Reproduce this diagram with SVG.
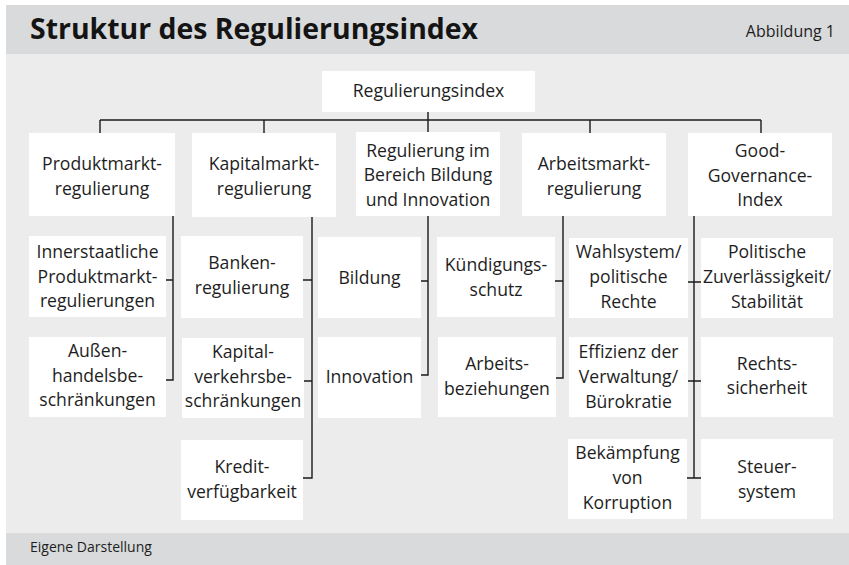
<svg xmlns="http://www.w3.org/2000/svg" width="849" height="565" viewBox="0 0 849 565">
<style>
.band{fill:#d9dadb}
.main{fill:#ececec}
.box{fill:#ffffff}
.t{font-family:"Open Sans","Liberation Sans",sans-serif;font-size:17.6px;fill:#1e1e1e;text-anchor:middle}
.title{font-family:"Open Sans","Liberation Sans",sans-serif;font-size:29px;font-weight:bold;fill:#141414}
.small{font-family:"Open Sans","Liberation Sans",sans-serif;font-size:16px;fill:#1e1e1e}
.foot{font-family:"Open Sans","Liberation Sans",sans-serif;font-size:14px;fill:#1e1e1e}
.c{stroke:#1a1a1a;stroke-width:1.4;fill:none}
</style>
<rect x="0" y="0" width="849" height="565" fill="#ffffff"/>
<rect class="band" x="6" y="5" width="843" height="49"/>
<rect class="main" x="6" y="54" width="843" height="479"/>
<rect class="band" x="6" y="533" width="843" height="32"/>
<text class="title" x="30" y="39" textLength="448" lengthAdjust="spacingAndGlyphs">Struktur des Regulierungsindex</text>
<text class="small" x="835" y="37" text-anchor="end">Abbildung 1</text>
<text class="foot" x="30" y="552">Eigene Darstellung</text>

<g id="connectors">
<path class="c" d="M428,112V132M100,120H761M100,120V133M264,120V133M590,120V133M761,120V133"/>
<path class="c" d="M173,216V380H166M166,280H173"/>
<path class="c" d="M312,217V478H303M302,280H312M304,381H312"/>
<path class="c" d="M428,216V375H421M421,281H428"/>
<path class="c" d="M563,216V378H556M555,281H563"/>
<path class="c" d="M694,216V478M688,282H701M688,381H701M687,478H701"/>
</g>

<g id="n-root"><rect class="box" x="322" y="71" width="213" height="41"/><text class="t" x="428.5" y="97">Regulierungsindex</text></g>

<g id="n-produkt"><rect class="box" x="29" y="133" width="146" height="83"/><text class="t" x="102" y="170">Produktmarkt-</text><text class="t" x="102" y="195">regulierung</text></g>
<g id="n-kapital"><rect class="box" x="192" y="133" width="144" height="84"/><text class="t" x="264" y="170">Kapitalmarkt-</text><text class="t" x="264" y="195">regulierung</text></g>
<g id="n-bildungreg"><rect class="box" x="356" y="132" width="144" height="84"/><text class="t" x="428" y="156.5">Regulierung im</text><text class="t" x="428" y="181">Bereich Bildung</text><text class="t" x="428" y="205.5">und Innovation</text></g>
<g id="n-arbeit"><rect class="box" x="522" y="133" width="144" height="83"/><text class="t" x="594" y="170">Arbeitsmarkt-</text><text class="t" x="594" y="195">regulierung</text></g>
<g id="n-good"><rect class="box" x="688" y="133" width="144" height="83"/><text class="t" x="760" y="157">Good-</text><text class="t" x="760" y="181.5">Governance-</text><text class="t" x="760" y="206">Index</text></g>

<g id="n-inner"><rect class="box" x="29" y="236" width="137" height="81"/><text class="t" x="97.5" y="258">Innerstaatliche</text><text class="t" x="97.5" y="282.5">Produktmarkt-</text><text class="t" x="97.5" y="307">regulierungen</text></g>
<g id="n-aussen"><rect class="box" x="29" y="337" width="137" height="80"/><text class="t" x="97.5" y="357">Außen-</text><text class="t" x="97.5" y="381.5">handelsbe-</text><text class="t" x="97.5" y="406">schränkungen</text></g>

<g id="n-banken"><rect class="box" x="181" y="236" width="122" height="82"/><text class="t" x="242" y="269">Banken-</text><text class="t" x="242" y="293.5">regulierung</text></g>
<g id="n-kapverkehr"><rect class="box" x="182" y="338" width="122" height="80"/><text class="t" x="243" y="358">Kapital-</text><text class="t" x="243" y="382.5">verkehrsbe-</text><text class="t" x="243" y="407">schränkungen</text></g>
<g id="n-kredit"><rect class="box" x="181" y="440" width="122" height="80"/><text class="t" x="242" y="473">Kredit-</text><text class="t" x="242" y="497.5">verfügbarkeit</text></g>

<g id="n-bildung"><rect class="box" x="318" y="237" width="103" height="81"/><text class="t" x="369.5" y="283.5">Bildung</text></g>
<g id="n-innovation"><rect class="box" x="318" y="337" width="103" height="81"/><text class="t" x="369.5" y="383">Innovation</text></g>

<g id="n-kuendigung"><rect class="box" x="437" y="237" width="118" height="80"/><text class="t" x="496" y="271">Kündigungs-</text><text class="t" x="496" y="295.5">schutz</text></g>
<g id="n-arbeitsbez"><rect class="box" x="438" y="337" width="118" height="80"/><text class="t" x="497" y="370">Arbeits-</text><text class="t" x="497" y="394.5">beziehungen</text></g>

<g id="n-wahl"><rect class="box" x="569" y="238" width="119" height="80"/><text class="t" x="628.5" y="258">Wahlsystem/</text><text class="t" x="628.5" y="283">politische</text><text class="t" x="628.5" y="308">Rechte</text></g>
<g id="n-effizienz"><rect class="box" x="569" y="337" width="119" height="80"/><text class="t" x="628.5" y="358">Effizienz der</text><text class="t" x="628.5" y="383">Verwaltung/</text><text class="t" x="628.5" y="408">Bürokratie</text></g>
<g id="n-korruption"><rect class="box" x="568" y="439" width="119" height="80"/><text class="t" x="627.5" y="459">Bekämpfung</text><text class="t" x="627.5" y="484">von</text><text class="t" x="627.5" y="509">Korruption</text></g>

<g id="n-politisch"><rect class="box" x="701" y="238" width="132" height="80"/><text class="t" x="767" y="258">Politische</text><text class="t" x="767" y="283">Zuverlässigkeit/</text><text class="t" x="767" y="308">Stabilität</text></g>
<g id="n-rechts"><rect class="box" x="701" y="337" width="132" height="80"/><text class="t" x="767" y="369.5">Rechts-</text><text class="t" x="767" y="394">sicherheit</text></g>
<g id="n-steuer"><rect class="box" x="701" y="439" width="132" height="80"/><text class="t" x="767" y="473">Steuer-</text><text class="t" x="767" y="497.5">system</text></g>
</svg>
